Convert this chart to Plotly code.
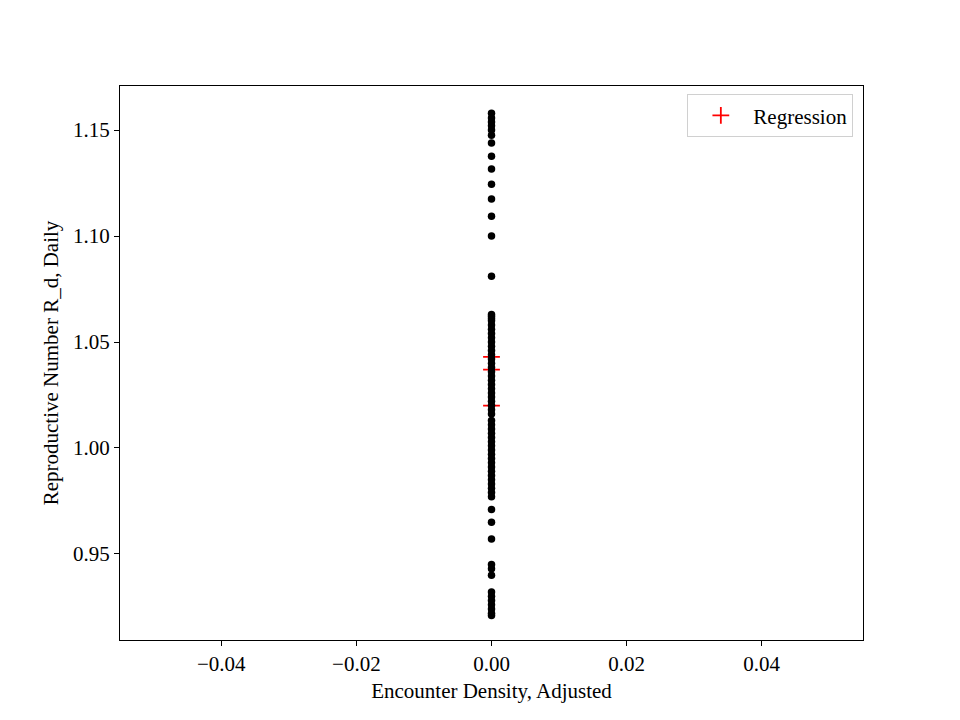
import plotly.graph_objects as go

# Observed data (all at x = 0)
r_daily = [
    1.158, 1.1557, 1.1538, 1.152, 1.150, 1.1476, 1.1439, 1.1377, 1.1316, 1.1245,
    1.1175, 1.1094, 1.100, 1.081,
    1.063, 1.062, 1.061, 1.060, 1.058, 1.056, 1.054, 1.052, 1.050, 1.048,
    1.046, 1.044, 1.042, 1.040, 1.038, 1.036, 1.034, 1.032, 1.030, 1.028,
    1.026, 1.024, 1.022, 1.020, 1.018, 1.016, 1.013, 1.011, 1.009, 1.007,
    1.005, 1.003, 1.001, 0.999, 0.997, 0.995, 0.993, 0.991, 0.989, 0.987,
    0.985, 0.983, 0.981, 0.979, 0.977,
    0.971, 0.965, 0.957, 0.945, 0.943, 0.940, 0.932, 0.930, 0.928, 0.926,
    0.924, 0.922, 0.921,
]
encounter_density = [0.0] * len(r_daily)

# Regression predictions
reg_x = [0.0, 0.0, 0.0]
reg_y = [1.043, 1.037, 1.020]

x_ticks = [-0.04, -0.02, 0.0, 0.02, 0.04]
y_ticks = [0.95, 1.00, 1.05, 1.10, 1.15]

FONT = "Liberation Serif"

fig = go.Figure()
fig.add_trace(go.Scatter(
    x=reg_x, y=reg_y, mode="markers", name="Regression",
    marker=dict(symbol="cross-thin", size=12, line=dict(color="#ff0000", width=1.8), color="#ff0000"),
))
fig.add_trace(go.Scatter(
    x=encounter_density, y=r_daily, mode="markers", showlegend=False,
    marker=dict(color="black", size=7.5),
))

axis_common = dict(
    showline=True, linecolor="black", linewidth=1, mirror=True,
    ticks="outside", ticklen=5, tickcolor="black", showgrid=False, zeroline=False,
    tickfont=dict(family=FONT, size=21, color="black"),
)
fig.update_xaxes(range=[-0.055, 0.055], tickvals=x_ticks, tickformat=".2f",
                 title=dict(text="Encounter Density, Adjusted", standoff=8,
                            font=dict(family=FONT, size=21, color="black")),
                 **axis_common)
fig.update_yaxes(range=[0.9094, 1.1708], tickvals=y_ticks, tickformat=".2f",
                 title=dict(text="Reproductive Number R_d, Daily", standoff=8,
                            font=dict(family=FONT, size=21, color="black")),
                 **axis_common)

fig.update_layout(
    width=960, height=720,
    margin=dict(l=112, r=105, t=78, b=88, autoexpand=False),
    plot_bgcolor="white", paper_bgcolor="white",
    font=dict(family=FONT, size=21, color="black"),
    legend=dict(x=0.987, y=0.985, xanchor="right", yanchor="top",
                bordercolor="#d0d0d0", borderwidth=1, bgcolor="white",
                itemwidth=55, font=dict(family=FONT, size=21)),
)

fig.write_html("out.html")
